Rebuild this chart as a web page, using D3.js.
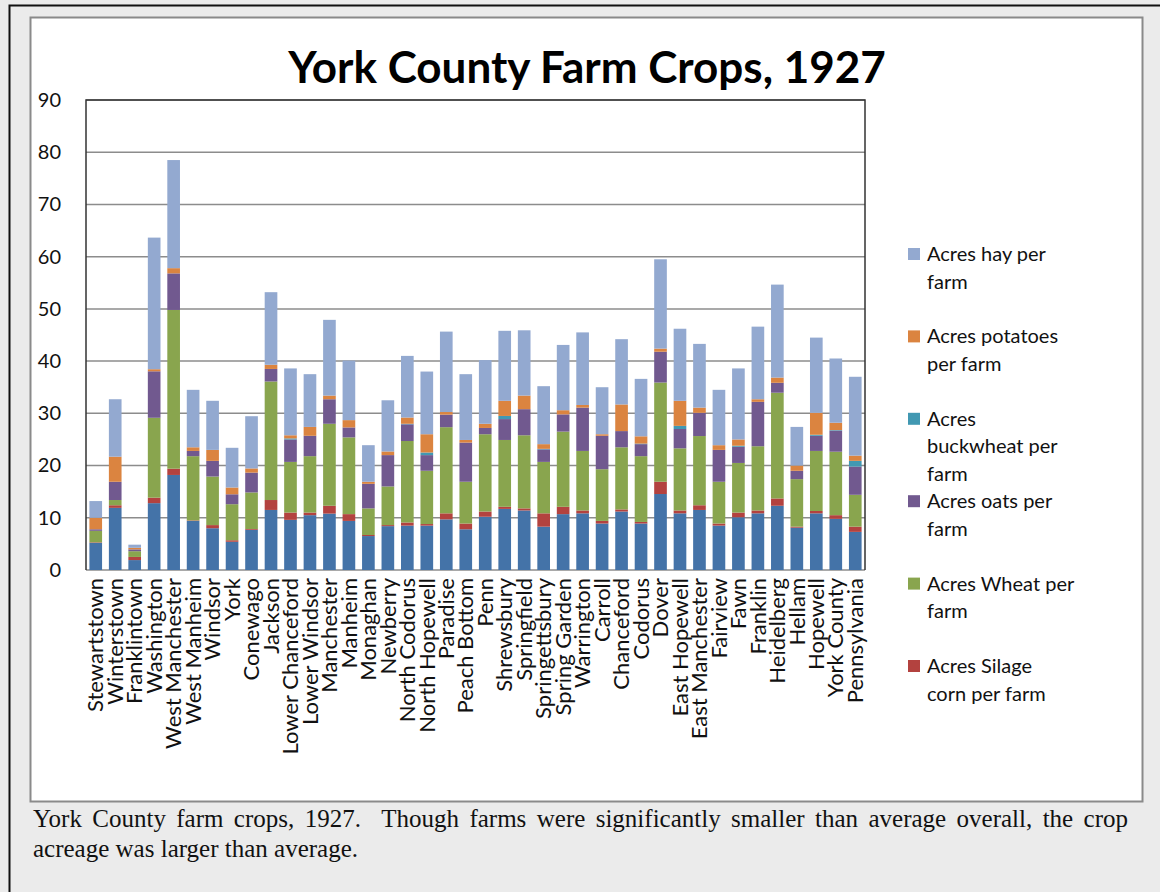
<!DOCTYPE html>
<html lang="en">
<head>
    <meta charset="UTF-8">
    <title>York County Farm Crops, 1927</title>
    <script src="https://d3js.org/d3.v7.min.js"></script>
    <style>
        body { margin: 0; background: #ffffff; }
    </style>
</head>
<body>
<svg width="1160" height="892" id="canvas"></svg>

<script>

    // townships
    const townships = ["Stewartstown", "Winterstown", "Franklintown", "Washington", "West Manchester",
        "West Manheim", "Windsor", "York", "Conewago", "Jackson", "Lower Chanceford", "Lower Windsor",
        "Manchester", "Manheim", "Monaghan", "Newberry", "North Codorus", "North Hopewell", "Paradise",
        "Peach Bottom", "Penn", "Shrewsbury", "Springfield", "Springettsbury", "Spring Garden",
        "Warrington", "Carroll", "Chanceford", "Codorus", "Dover", "East Hopewell", "East Manchester",
        "Fairview", "Fawn", "Franklin", "Heidelberg", "Hellam", "Hopewell", "York County", "Pennsylvania"];

    // acres per farm, one array per crop (bottom of stack first)
    const corn = [5.2, 11.9, 1.9, 12.8, 18.2, 9.4, 8.0, 5.4, 7.7, 11.5, 9.6, 10.5, 10.8, 9.4, 6.5, 8.4, 8.5, 8.5, 9.7,
        7.8, 10.2, 11.7, 11.4, 8.3, 10.7, 10.85, 8.9, 11.2, 8.9, 14.55, 10.85, 11.5, 8.5, 10.1, 10.85, 12.3, 8.1, 10.85, 9.8, 7.3];
    const silage = [0.1, 0.5, 0.6, 1.05, 1.2, 0.1, 0.6, 0.3, 0.15, 1.9, 1.4, 0.5, 1.5, 1.3, 0.2, 0.2, 0.6, 0.3, 1.15,
        1.1, 1.0, 0.4, 0.4, 2.55, 1.4, 0.55, 0.5, 0.4, 0.3, 2.35, 0.55, 0.9, 0.4, 0.9, 0.55, 1.4, 0.2, 0.45, 0.7, 1.0];
    const wheat = [2.2, 1.0, 1.1, 15.3, 30.4, 12.3, 9.3, 6.9, 7.0, 22.7, 9.7, 10.8, 15.7, 14.7, 5.1, 7.4, 15.6, 10.2, 16.5,
        8.0, 14.8, 12.8, 14.0, 9.85, 14.4, 11.4, 9.9, 11.9, 12.6, 19.0, 11.9, 13.25, 8.0, 9.5, 12.3, 20.25, 9.1, 11.5, 12.15, 6.1];
    const oats = [0.3, 3.5, 0.35, 8.9, 7.0, 1.0, 3.0, 1.9, 3.8, 2.4, 4.3, 3.9, 4.7, 1.9, 4.7, 6.0, 3.2, 3.0, 2.4,
        7.5, 1.2, 4.0, 5.0, 2.4, 3.3, 8.3, 6.4, 3.1, 2.3, 5.9, 3.7, 4.45, 6.1, 3.1, 8.5, 1.9, 1.6, 2.9, 4.05, 5.4];
    const buckwheat = [0, 0, 0, 0, 0, 0, 0, 0, 0, 0, 0.2, 0, 0, 0, 0, 0, 0.1, 0.5, 0,
        0, 0, 0.6, 0, 0.1, 0, 0, 0, 0, 0.1, 0, 0.6, 0, 0, 0.2, 0, 0, 0, 0.2, 0.1, 1.1];
    const potatoes = [2.2, 4.8, 0.3, 0.4, 1.0, 0.7, 2.1, 1.3, 0.8, 0.8, 0.6, 1.7, 0.7, 1.4, 0.4, 0.7, 1.2, 3.5, 0.5,
        0.5, 0.8, 2.9, 2.6, 0.9, 0.8, 0.5, 0.3, 5.1, 1.4, 0.6, 4.8, 1.0, 0.9, 1.2, 0.5, 1.0, 1.0, 4.2, 1.4, 1.0];
    const hay = [3.2, 11.0, 0.6, 25.2, 20.7, 11.0, 9.4, 7.6, 10.0, 13.9, 12.8, 10.1, 14.5, 11.4, 7.0, 9.8, 11.8, 12.0, 15.4,
        12.6, 12.2, 13.4, 12.5, 11.1, 12.5, 13.9, 9.0, 12.5, 11.0, 17.1, 13.8, 12.2, 10.6, 13.6, 13.9, 17.8, 7.4, 14.4, 12.3, 15.1];

    const yTicks = [0, 10, 20, 30, 40, 50, 60, 70, 80, 90];

    const series = [
        {key: "corn", values: corn, color: "#4473a8", legend: null},
        {key: "silage", values: silage, color: "#b3423f", legend: ["Acres Silage", "corn per farm"]},
        {key: "wheat", values: wheat, color: "#89a54e", legend: ["Acres Wheat per", "farm"]},
        {key: "oats", values: oats, color: "#71598f", legend: ["Acres oats per", "farm"]},
        {key: "buckwheat", values: buckwheat, color: "#4198b2", legend: ["Acres", "buckwheat per", "farm"]},
        {key: "potatoes", values: potatoes, color: "#db8440", legend: ["Acres potatoes", "per farm"]},
        {key: "hay", values: hay, color: "#93a9d0", legend: ["Acres hay per", "farm"]}
    ];

    const rows = townships.map((t, i) => {
        const r = {town: t};
        series.forEach(s => r[s.key] = s.values[i]);
        return r;
    });

    let svg = d3.select("svg");
    const font = "Lato, 'Open Sans', sans-serif";

    // page frame
    svg.append("rect").attr("x", 0).attr("y", 0).attr("width", 1160).attr("height", 892).attr("fill", "#ebebeb");
    svg.append("path").attr("d", "M9.5,892 V5.5 H1160").attr("fill", "none").attr("stroke", "#111").attr("stroke-width", 2);
    svg.append("rect").attr("x", 30.5).attr("y", 17.5).attr("width", 1112).attr("height", 784)
        .attr("fill", "#ffffff").attr("stroke", "#8a8a8a").attr("stroke-width", 2);

    const plotLeft = 86, plotRight = 865, plotTop = 100, plotBottom = 570;

    const x = d3.scaleBand().domain(townships).range([plotLeft, plotRight]).paddingInner(0.35).paddingOuter(0.175);
    const y = d3.scaleLinear().domain([0, 90]).range([plotBottom, plotTop]);

    // gridlines
    svg.append("g")
        .selectAll("line")
        .data(yTicks)
        .enter()
        .append("line")
        .attr("x1", plotLeft).attr("x2", plotRight)
        .attr("y1", d => y(d)).attr("y2", d => y(d))
        .attr("stroke", "#8c8c8c")
        .attr("stroke-width", 1.5);

    // plot border
    svg.append("path")
        .attr("d", `M${plotLeft},${plotBottom} V${plotTop} H${plotRight} V${plotBottom}`)
        .attr("fill", "none").attr("stroke", "#333").attr("stroke-width", 1.5);

    // stacked bars
    const stack = d3.stack().keys(series.map(s => s.key));
    const layers = stack(rows);

    svg.append("g")
        .selectAll("g")
        .data(layers)
        .enter()
        .append("g")
        .attr("fill", (d, i) => series[i].color)
        .selectAll("rect")
        .data(d => d)
        .enter()
        .append("rect")
        .attr("x", d => x(d.data.town))
        .attr("width", x.bandwidth())
        .attr("y", d => y(d[1]))
        .attr("height", d => Math.max(0, y(d[0]) - y(d[1])));

    // y axis labels
    const yAxis = d3.axisLeft(y).tickValues(yTicks).tickSize(0).tickPadding(0);
    const ya = svg.append("g").attr("transform", "translate(61,0)").call(yAxis);
    ya.select(".domain").remove();
    ya.selectAll("text")
        .attr("font-family", font)
        .attr("font-size", 20)
        .attr("fill", "#111");

    // x axis labels
    const xAxis = d3.axisBottom(x).tickSize(0).tickPadding(0);
    const xa = svg.append("g").attr("transform", `translate(0,${plotBottom})`).call(xAxis);
    xa.select(".domain").remove();
    xa.selectAll("text")
        .attr("font-family", font)
        .attr("font-size", 22)
        .attr("fill", "#111")
        .attr("text-anchor", "end")
        .attr("transform", "rotate(-90)")
        .attr("x", -8)
        .attr("y", 0)
        .attr("dy", "0.35em");

    // title
    svg.append("text")
        .attr("x", 587).attr("y", 83)
        .attr("text-anchor", "middle")
        .attr("font-family", font)
        .attr("font-weight", "bold")
        .attr("font-size", 44)
        .attr("fill", "#000")
        .text("York County Farm Crops, 1927");

    // legend
    const legendItems = series.filter(s => s.legend).reverse();
    const lg = svg.append("g")
        .selectAll("g")
        .data(legendItems)
        .enter()
        .append("g")
        .attr("transform", (d, i) => `translate(908,${254 + i * 82.4})`);
    lg.append("rect")
        .attr("x", 0).attr("y", -6).attr("width", 12).attr("height", 12)
        .attr("fill", d => d.color);
    lg.append("text")
        .attr("font-family", font)
        .attr("font-size", 20)
        .attr("fill", "#111")
        .selectAll("tspan")
        .data(d => d.legend)
        .enter()
        .append("tspan")
        .attr("x", 19)
        .attr("y", (d, i) => i * 27.5)
        .attr("dy", "0.35em")
        .text(d => d);

    // caption, first line justified to the box width
    const caption = ["York County farm crops, 1927.  Though farms were significantly smaller than average overall, the crop",
        "acreage was larger than average."];
    const cap = svg.append("g")
        .selectAll("text")
        .data(caption)
        .enter()
        .append("text")
        .attr("x", 33)
        .attr("y", (d, i) => 827 + i * 29.5)
        .attr("font-family", "'Liberation Serif', 'Times New Roman', serif")
        .attr("font-size", 25)
        .attr("fill", "#111")
        .style("white-space", "pre")
        .text(d => d);
    cap.filter((d, i) => i === 0).each(function (d) {
        const len = this.getComputedTextLength();
        const spaces = d.split(" ").length - 1;
        const extra = (1095 - len) / spaces;
        if (extra > 0) d3.select(this).style("word-spacing", extra + "px");
        else d3.select(this).attr("textLength", 1095).attr("lengthAdjust", "spacingAndGlyphs");
    });

</script>
</body>
</html>
